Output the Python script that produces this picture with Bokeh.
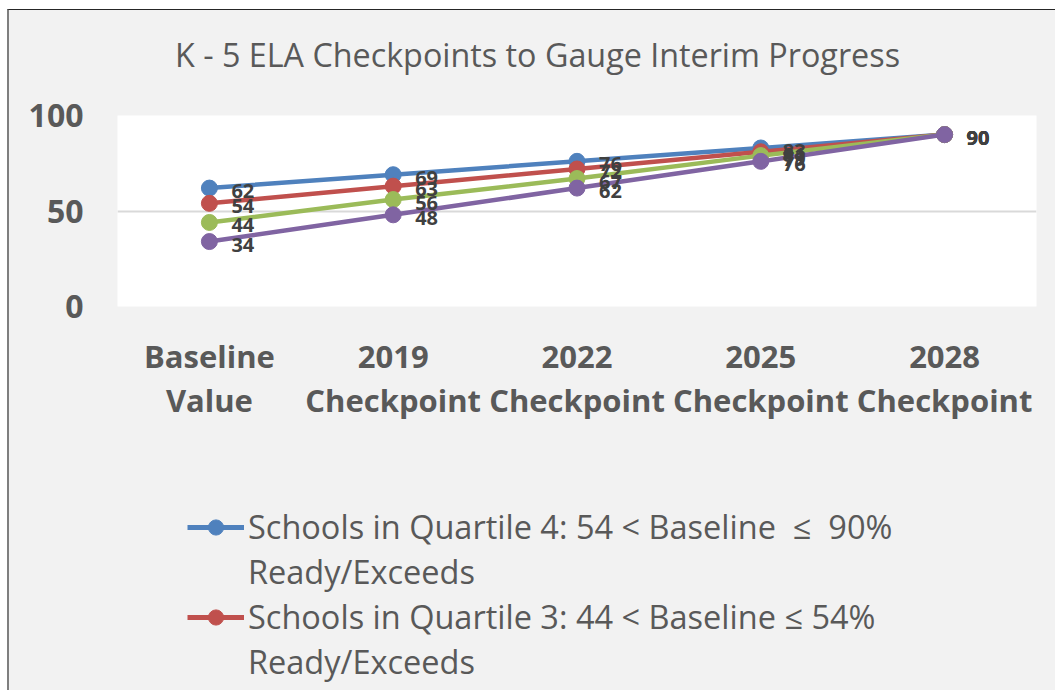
from bokeh.plotting import figure
from bokeh.layouts import column
from bokeh.models import ColumnDataSource, FactorRange, FixedTicker, LabelSet, Legend, LegendItem, Label
from bokeh.core.properties import value
from bokeh.embed import file_html
from bokeh.resources import INLINE

title_text = "K - 5 ELA Checkpoints to Gauge Interim Progress"
categories = ["Baseline\nValue", "2019\nCheckpoint", "2022\nCheckpoint", "2025\nCheckpoint", "2028\nCheckpoint"]
q4 = [62, 69, 76, 83, 90]
q3 = [54, 63, 72, 81, 90]
q2 = [44, 56, 67, 79, 90]
q1 = [34, 48, 62, 76, 90]
series_first_line = [
    "Schools in Quartile 4: 54 < Baseline  \u2264  90%",
    "Schools in Quartile 3: 44 < Baseline \u2264 54%",
]
series_second_line = ["Ready/Exceeds", "Ready/Exceeds"]
colors = ["#4f81bd", "#c0504d", "#9bbb59", "#8064a2"]
y_ticks = [0, 50, 100]
BG = "#f2f2f2"


def blank_panel(height):
    f = figure(width=1046, height=height, x_range=(0, 1), y_range=(0, 1),
               output_backend="svg", toolbar_location=None,
               min_border_left=108, min_border_right=19, min_border_top=0, min_border_bottom=0)
    f.axis.visible = False
    f.grid.visible = False
    f.border_fill_color = BG
    f.background_fill_color = BG
    f.outline_line_color = None
    return f


# title panel
p0 = blank_panel(66)
p0.add_layout(Label(x=420, y=23, x_units="screen", y_units="screen", text=title_text,
                    text_align="center", text_baseline="middle", text_font="Open Sans",
                    text_font_size="32.3px", text_color="#595959"))

# chart
p = figure(width=1046, height=422, x_range=FactorRange(factors=categories, range_padding=0),
           y_range=(0, 100), output_backend="svg", toolbar_location=None,
           min_border_left=108, min_border_right=19, min_border_top=39, min_border_bottom=192)
p.border_fill_color = BG
p.background_fill_color = "white"
p.outline_line_color = None

p.xgrid.grid_line_color = None
p.ygrid.grid_line_color = "#d9d9d9"
p.ygrid.grid_line_width = 2
p.yaxis.ticker = FixedTicker(ticks=y_ticks)

for ax in (p.xaxis[0], p.yaxis[0]):
    ax.axis_line_color = None
    ax.major_tick_line_color = None
    ax.minor_tick_line_color = None
    ax.major_label_text_font = "Open Sans"
    ax.major_label_text_font_style = "bold"
    ax.major_label_text_color = "#595959"
p.yaxis.major_label_text_font_size = "32px"
p.yaxis.major_label_standoff = 28
p.xaxis.major_label_text_font_size = "31px"
p.xaxis.major_label_text_line_height = 1.05
p.xaxis.major_label_standoff = 22

# legend panel below the chart
p2 = figure(width=1046, height=192, x_range=p.x_range, y_range=(1000, 1100),
            output_backend="svg", toolbar_location=None,
            min_border_left=108, min_border_right=19, min_border_top=0, min_border_bottom=0)
p2.axis.visible = False
p2.grid.visible = False
p2.border_fill_color = BG
p2.background_fill_color = BG
p2.outline_line_color = None

items = []
for i, (vals, col) in enumerate(zip([q4, q3, q2, q1], colors)):
    src = ColumnDataSource(dict(x=categories, y=vals, t=[str(v) for v in vals]))
    p.line("x", "y", source=src, line_color=col, line_width=4.5)
    p.scatter("x", "y", source=src, size=16, fill_color=col, line_color=col)
    p.add_layout(LabelSet(x="x", y="y", text="t", source=src, x_offset=22, y_offset=-3,
                          text_baseline="middle", text_font=value("Open Sans"), text_font_style="bold",
                          text_font_size="20px", text_color="#404040"))
    if i < len(series_first_line):
        l1 = p2.line("x", "y", source=src, line_color=col, line_width=5)
        l2 = p2.scatter("x", "y", source=src, size=16, fill_color=col, line_color=col)
        blank = p2.line("x", "y", source=src, line_alpha=0)
        items.append(LegendItem(label=series_first_line[i], renderers=[l1, l2]))
        items.append(LegendItem(label=series_second_line[i], renderers=[blank]))

legend = Legend(items=items, location=(70, 6), orientation="vertical")
legend.background_fill_alpha = 0
legend.border_line_color = None
legend.label_text_font = "Open Sans"
legend.label_text_font_size = "32.5px"
legend.label_text_color = "#595959"
legend.glyph_width = 57
legend.glyph_height = 38
legend.label_height = 45
legend.label_standoff = 4
legend.spacing = 0
legend.padding = 0
legend.margin = 0
p2.add_layout(legend, "center")

layout = column(p0, p, p2, spacing=0)
layout.margin = (9, 0, 0, 7)
layout.styles = {"background-color": BG, "border-top": "1px solid #262626",
                 "border-left": "2px solid #7f7f7f"}
open("out.html", "w").write(file_html(layout, INLINE))
